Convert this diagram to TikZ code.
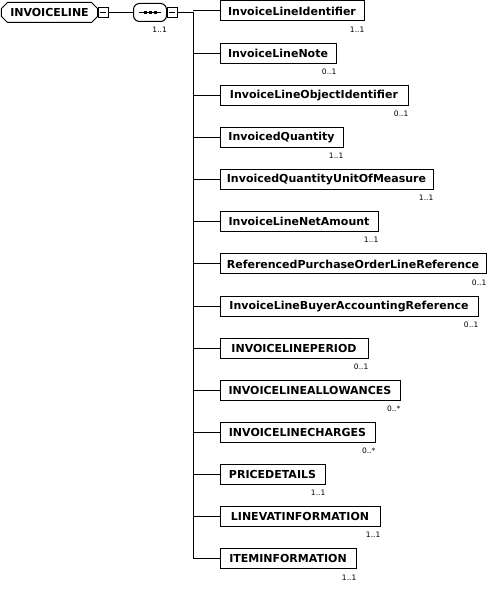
\documentclass[tikz,border=0pt]{standalone}
\usepackage{fontspec}
\usepackage{tikz}
\usetikzlibrary{positioning,shapes.misc,calc}
\newfontfamily\schemafont{DejaVu Sans}
\newcommand{\elemfont}{\schemafont\bfseries\fontsize{11}{12}\selectfont}
\newcommand{\cardfont}{\schemafont\fontsize{7.5}{8}\selectfont}

\begin{document}
\begin{tikzpicture}[
 x=1pt,y=-1pt,
 elem/.style={draw,line width=1pt,anchor=west,minimum height=20pt,inner xsep=5pt,inner ysep=0pt,font=\elemfont},
 card/.style={anchor=north east,inner sep=0pt,font=\cardfont},
 toggle/.style={draw,line width=0.8pt,minimum size=10pt,inner sep=0pt,
   path picture={\draw[line width=0.8pt] ([xshift=2pt]path picture bounding box.west) -- ([xshift=-2pt]path picture bounding box.east);}},
 link/.style={draw=black,line width=1pt}
]
\useasboundingbox (0,0) rectangle (491,591);

% root element and sequence compositor
\node[draw,line width=1pt,chamfered rectangle,chamfered rectangle xsep=3pt,chamfered rectangle ysep=3pt,
  minimum width=96pt,minimum height=20pt,inner sep=0pt,anchor=west,font=\elemfont] (root) at (1,12.5) {INVOICELINE};
\node[toggle,anchor=west] (roottog) at (98,12.5) {};
\node[draw,line width=1pt,rounded corners=6pt,
  minimum width=33pt,minimum height=18pt,inner sep=0pt,anchor=west] (seq) at (133,12.5) {};
\node[toggle,anchor=west] (seqtog) at (167,12.5) {};
\node[card] (seqcard) at ([yshift=-5pt]seq.south east) {1..1};
\draw[line width=1pt] ($(seq.west)+(6,0)$) -- ($(seq.east)+(-6,0)$);
\foreach \d in {-5,0,5}
  \fill ($(seq.center)+(\d-1.5,-1.5)$) rectangle +(3,3);
\draw[link] (roottog.east) -- (seq.west);

% child elements
\node[elem,minimum width=144pt] (ident) at (219.5,11) {InvoiceLineIdentifier};
\node[elem,minimum width=116pt] (note) at (219.5,53.15) {InvoiceLineNote};
\node[elem,minimum width=188pt] (objid) at (219.5,95.3) {InvoiceLineObjectIdentifier};
\node[elem,minimum width=123pt] (qty) at (219.5,137.45) {InvoicedQuantity};
\node[elem,minimum width=213pt] (uom) at (219.5,179.6) {InvoicedQuantityUnitOfMeasure};
\node[elem,minimum width=158pt] (net) at (219.5,221.75) {InvoiceLineNetAmount};
\node[elem,minimum width=266pt] (poref) at (219.5,263.9) {ReferencedPurchaseOrderLineReference};
\node[elem,minimum width=258pt] (buyref) at (219.5,306.05) {InvoiceLineBuyerAccountingReference};
\node[elem,minimum width=148pt] (period) at (219.5,348.2) {INVOICELINEPERIOD};
\node[elem,minimum width=180pt] (allow) at (219.5,390.35) {INVOICELINEALLOWANCES};
\node[elem,minimum width=155pt] (charge) at (219.5,432.5) {INVOICELINECHARGES};
\node[elem,minimum width=105pt] (price) at (219.5,474.65) {PRICEDETAILS};
\node[elem,minimum width=160pt] (vat) at (219.5,516.8) {LINEVATINFORMATION};
\node[elem,minimum width=136pt] (item) at (219.5,558.95) {ITEMINFORMATION};

% cardinalities
\node[card] at ([yshift=-5pt]ident.south east) {1..1};
\node[card] at ([yshift=-5pt]note.south east) {0..1};
\node[card] at ([yshift=-5pt]objid.south east) {0..1};
\node[card] at ([yshift=-5pt]qty.south east) {1..1};
\node[card] at ([yshift=-5pt]uom.south east) {1..1};
\node[card] at ([yshift=-5pt]net.south east) {1..1};
\node[card] at ([yshift=-5pt]poref.south east) {0..1};
\node[card] at ([yshift=-5pt]buyref.south east) {0..1};
\node[card] at ([yshift=-5pt]period.south east) {0..1};
\node[card] at ([yshift=-5pt]allow.south east) {0..*};
\node[card] at ([yshift=-5pt]charge.south east) {0..*};
\node[card] at ([yshift=-5pt]price.south east) {1..1};
\node[card] at ([yshift=-5pt]vat.south east) {1..1};
\node[card] at ([yshift=-5pt]item.south east) {1..1};

% tree lines
\coordinate (trunktop) at (193,12.5);
\draw[link] (seqtog.east) -- (trunktop) -- (trunktop |- item.west);
\foreach \n in {ident,note,objid,qty,uom,net,poref,buyref,period,allow,charge,price,vat,item}
  \draw[link] (\n.west) -- (\n.west -| trunktop);
\end{tikzpicture}
\end{document}
